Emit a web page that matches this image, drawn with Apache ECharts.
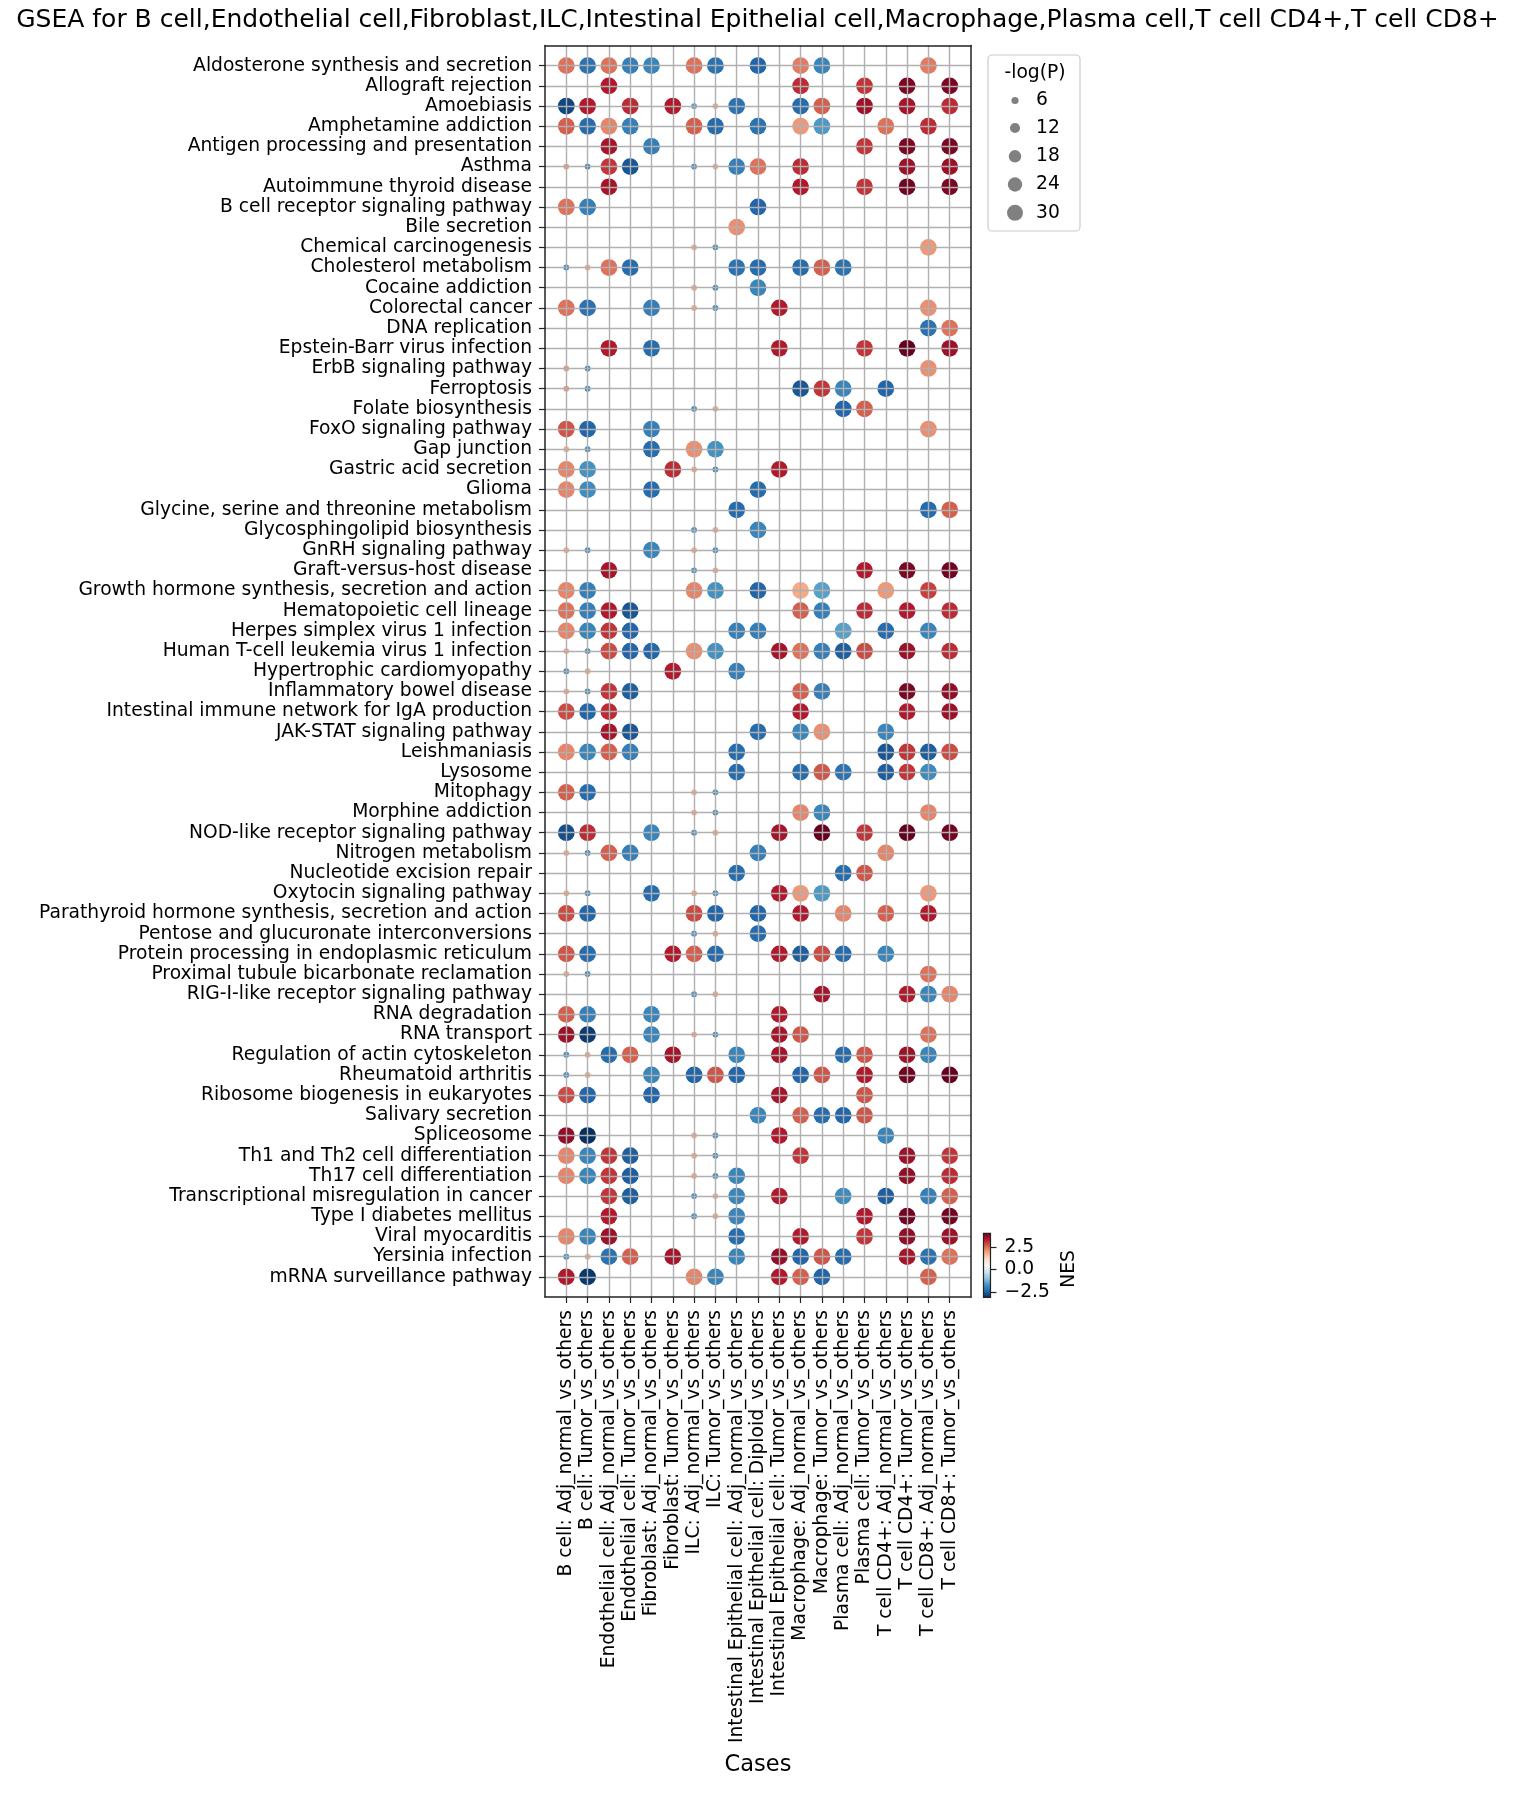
<!DOCTYPE html>
<html><head><meta charset="utf-8">
<script src="https://cdn.jsdelivr.net/npm/echarts@6/dist/echarts.min.js"></script>
<style>html,body{margin:0;padding:0;background:#fff}#c{width:1515px;height:1793px}</style>
</head><body><div id="c"></div>
<script>
const titleText = 'GSEA for B cell,Endothelial cell,Fibroblast,ILC,Intestinal Epithelial cell,Macrophage,Plasma cell,T cell CD4+,T cell CD8+';
const cases = [
'B cell: Adj_normal_vs_others','B cell: Tumor_vs_others',
'Endothelial cell: Adj_normal_vs_others','Endothelial cell: Tumor_vs_others',
'Fibroblast: Adj_normal_vs_others','Fibroblast: Tumor_vs_others',
'ILC: Adj_normal_vs_others','ILC: Tumor_vs_others',
'Intestinal Epithelial cell: Adj_normal_vs_others','Intestinal Epithelial cell: Diploid_vs_others','Intestinal Epithelial cell: Tumor_vs_others',
'Macrophage: Adj_normal_vs_others','Macrophage: Tumor_vs_others',
'Plasma cell: Adj_normal_vs_others','Plasma cell: Tumor_vs_others',
'T cell CD4+: Adj_normal_vs_others','T cell CD4+: Tumor_vs_others',
'T cell CD8+: Adj_normal_vs_others','T cell CD8+: Tumor_vs_others'];
const pathways = [
'Aldosterone synthesis and secretion','Allograft rejection','Amoebiasis','Amphetamine addiction',
'Antigen processing and presentation','Asthma','Autoimmune thyroid disease','B cell receptor signaling pathway',
'Bile secretion','Chemical carcinogenesis','Cholesterol metabolism','Cocaine addiction','Colorectal cancer',
'DNA replication','Epstein-Barr virus infection','ErbB signaling pathway','Ferroptosis','Folate biosynthesis',
'FoxO signaling pathway','Gap junction','Gastric acid secretion','Glioma','Glycine, serine and threonine metabolism',
'Glycosphingolipid biosynthesis','GnRH signaling pathway','Graft-versus-host disease',
'Growth hormone synthesis, secretion and action','Hematopoietic cell lineage','Herpes simplex virus 1 infection',
'Human T-cell leukemia virus 1 infection','Hypertrophic cardiomyopathy','Inflammatory bowel disease',
'Intestinal immune network for IgA production','JAK-STAT signaling pathway','Leishmaniasis','Lysosome','Mitophagy',
'Morphine addiction','NOD-like receptor signaling pathway','Nitrogen metabolism','Nucleotide excision repair',
'Oxytocin signaling pathway','Parathyroid hormone synthesis, secretion and action','Pentose and glucuronate interconversions',
'Protein processing in endoplasmic reticulum','Proximal tubule bicarbonate reclamation','RIG-I-like receptor signaling pathway',
'RNA degradation','RNA transport','Regulation of actin cytoskeleton','Rheumatoid arthritis','Ribosome biogenesis in eukaryotes',
'Salivary secretion','Spliceosome','Th1 and Th2 cell differentiation','Th17 cell differentiation',
'Transcriptional misregulation in cancer','Type I diabetes mellitus','Viral myocarditis','Yersinia infection','mRNA surveillance pathway'];
// per pathway: [caseIndex, NES, -log(P)]
const gsea = [
[[0,2.4,33],[1,-2.2,33],[2,2.4,33],[3,-2.0,33],[4,-1.9,33],[6,2.4,33],[7,-2.2,33],[9,-2.4,33],[11,2.3,33],[12,-1.9,33],[17,2.3,33]],
[[2,3.3,33],[11,3.1,33],[14,3.0,33],[16,3.8,33],[18,3.8,33]],
[[0,-2.8,33],[1,3.3,33],[3,3.1,33],[5,3.3,33],[6,-1.6,4],[7,1.8,4],[8,-2.2,33],[11,-2.3,33],[12,2.6,33],[14,3.5,33],[16,3.4,33],[18,3.1,33]],
[[0,2.6,33],[1,-2.3,33],[2,2.2,33],[3,-2.0,33],[6,2.6,33],[7,-2.3,33],[9,-2.2,33],[11,2.0,33],[12,-1.6,33],[15,2.4,33],[17,3.1,33]],
[[2,3.4,33],[4,-2.0,33],[14,3.0,33],[16,3.8,33],[18,3.8,33]],
[[0,2.0,4],[1,-2.0,4],[2,3.0,33],[3,-2.6,33],[6,-1.8,4],[7,1.8,4],[8,-2.0,33],[9,2.4,33],[11,3.1,33],[16,3.5,33],[18,3.5,33]],
[[2,3.4,33],[11,3.3,33],[14,3.0,33],[16,3.9,33],[18,3.8,33]],
[[0,2.4,33],[1,-2.0,33],[9,-2.4,33]],
[[8,2.1,33]],
[[6,1.8,4],[7,-1.8,4],[17,2.0,33]],
[[0,-1.8,4],[1,1.8,4],[2,2.4,33],[3,-2.3,33],[8,-2.2,33],[9,-2.3,33],[11,-2.3,33],[12,2.6,33],[13,-2.2,33]],
[[6,1.8,4],[7,-1.8,4],[9,-1.9,33]],
[[0,2.4,33],[1,-2.2,33],[4,-2.0,33],[6,1.8,4],[7,-1.8,4],[10,3.3,33],[17,2.1,33]],
[[17,-2.2,33],[18,2.4,33]],
[[2,3.3,33],[4,-2.3,33],[10,3.3,33],[14,3.0,33],[16,4.0,33],[18,3.5,33]],
[[0,2.0,4],[1,-1.8,4],[17,2.1,33]],
[[0,2.0,4],[1,-1.8,4],[11,-2.6,33],[12,3.0,33],[13,-1.9,33],[15,-2.4,33]],
[[6,-1.8,4],[7,1.8,4],[13,-2.4,33],[14,2.6,33]],
[[0,2.7,33],[1,-2.4,33],[4,-2.0,33],[17,2.1,33]],
[[0,1.8,4],[1,-1.8,4],[4,-2.3,33],[6,2.1,33],[7,-1.7,33]],
[[0,2.2,33],[1,-1.7,33],[5,3.1,33],[6,1.8,4],[7,-1.8,4],[10,3.3,33]],
[[0,2.2,33],[1,-1.8,33],[4,-2.3,33],[9,-2.3,33]],
[[8,-2.3,33],[17,-2.3,33],[18,2.6,33]],
[[6,-1.8,4],[7,1.8,4],[9,-1.9,33]],
[[0,1.8,4],[1,-1.8,4],[4,-1.9,33],[6,1.8,4],[7,-1.8,4]],
[[2,3.4,33],[6,-1.8,4],[7,1.8,4],[14,3.3,33],[16,3.8,33],[18,3.9,33]],
[[0,2.2,33],[1,-2.0,33],[6,2.2,33],[7,-1.7,33],[9,-2.4,33],[11,1.8,33],[12,-1.5,33],[15,2.0,33],[17,2.9,33]],
[[0,2.4,33],[1,-2.0,33],[2,3.3,33],[3,-2.6,33],[11,2.6,33],[12,-2.0,33],[14,3.1,33],[16,3.3,33],[18,3.1,33]],
[[0,2.2,33],[1,-1.9,33],[2,3.0,33],[3,-2.4,33],[8,-2.0,33],[9,-2.0,33],[13,-1.5,33],[15,-2.3,33],[17,-1.9,33]],
[[0,1.8,4],[1,-1.8,4],[2,2.8,33],[3,-2.4,33],[4,-2.4,33],[6,2.1,33],[7,-1.7,33],[10,3.4,33],[11,2.4,33],[12,-2.0,33],[13,-2.5,33],[14,2.8,33],[16,3.5,33],[18,3.1,33]],
[[0,-1.8,4],[1,1.8,4],[5,3.3,33],[8,-2.0,33]],
[[0,1.8,4],[1,-1.8,4],[2,3.0,33],[3,-2.5,33],[11,2.6,33],[12,-2.0,33],[16,3.8,33],[18,3.6,33]],
[[0,2.8,33],[1,-2.4,33],[2,3.1,33],[11,3.3,33],[16,3.3,33],[18,3.5,33]],
[[2,3.4,33],[3,-2.6,33],[9,-2.3,33],[11,-1.9,33],[12,2.1,33],[15,-1.9,33]],
[[0,2.2,33],[1,-1.9,33],[2,2.6,33],[3,-2.0,33],[8,-2.3,33],[15,-2.6,33],[16,3.0,33],[17,-2.5,33],[18,2.8,33]],
[[8,-2.3,33],[11,-2.3,33],[12,2.7,33],[13,-2.2,33],[15,-2.5,33],[16,3.0,33],[17,-1.8,33]],
[[0,2.6,33],[1,-2.3,33],[6,1.8,4],[7,-1.8,4]],
[[6,1.8,4],[7,-1.8,4],[11,2.2,33],[12,-1.9,33],[17,2.2,33]],
[[0,-2.7,33],[1,3.1,33],[4,-1.9,33],[6,-1.8,4],[7,1.8,4],[10,3.4,33],[12,4.0,33],[14,3.0,33],[16,4.0,33],[18,3.9,33]],
[[0,1.8,4],[1,-1.8,4],[2,2.6,33],[3,-2.0,33],[9,-2.0,33],[15,2.2,33]],
[[8,-2.3,33],[13,-2.3,33],[14,2.7,33]],
[[0,1.8,4],[1,-1.8,4],[4,-2.3,33],[6,1.8,4],[7,-1.8,4],[10,3.3,33],[11,2.0,33],[12,-1.6,33],[17,2.0,33]],
[[0,2.8,33],[1,-2.4,33],[6,2.8,33],[7,-2.4,33],[9,-2.4,33],[11,3.3,33],[13,2.2,33],[15,2.6,33],[17,3.3,33]],
[[6,-1.8,4],[7,1.8,4],[9,-2.3,33]],
[[0,2.7,33],[1,-2.3,33],[5,3.3,33],[6,2.6,33],[7,-2.3,33],[10,3.3,33],[11,-2.5,33],[12,2.8,33],[13,-2.3,33],[15,-1.9,33]],
[[0,1.8,4],[1,-1.8,4],[17,2.4,33]],
[[6,-1.8,4],[7,1.8,4],[12,3.4,33],[16,3.3,33],[17,-1.9,33],[18,2.2,33]],
[[0,2.6,33],[1,-2.0,33],[4,-1.9,33],[10,3.3,33]],
[[0,3.5,33],[1,-2.95,33],[4,-1.9,33],[6,1.8,4],[7,-1.8,4],[10,3.4,33],[11,2.7,33],[17,2.4,33]],
[[0,-1.8,4],[1,1.8,4],[2,-2.3,33],[3,2.6,33],[5,3.4,33],[8,-1.9,33],[10,3.4,33],[13,-2.3,33],[14,2.7,33],[16,3.5,33],[17,-1.9,33]],
[[0,-1.8,4],[1,1.8,4],[4,-1.9,33],[6,-2.4,33],[7,2.7,33],[8,-2.4,33],[11,-2.4,33],[12,2.7,33],[14,3.3,33],[16,3.9,33],[18,4.0,33]],
[[0,2.8,33],[1,-2.4,33],[4,-2.4,33],[10,3.4,33],[14,2.7,33]],
[[9,-1.9,33],[11,2.6,33],[12,-2.3,33],[13,-2.4,33],[14,2.7,33]],
[[0,3.6,33],[1,-3.1,33],[6,1.8,4],[7,-1.8,4],[10,3.3,33],[15,-1.9,33]],
[[0,2.2,33],[1,-1.9,33],[2,3.0,33],[3,-2.5,33],[6,1.8,4],[7,-1.8,4],[11,3.0,33],[16,3.5,33],[18,3.0,33]],
[[0,2.2,33],[1,-1.9,33],[2,3.0,33],[3,-2.5,33],[6,1.8,4],[7,-1.8,4],[8,-1.9,33],[16,3.6,33],[18,3.1,33]],
[[2,3.0,33],[3,-2.5,33],[6,-1.8,4],[7,1.8,4],[8,-1.9,33],[10,3.3,33],[13,-1.8,33],[15,-2.5,33],[17,-2.0,33],[18,2.6,33]],
[[2,3.3,33],[6,-1.8,4],[7,1.8,4],[8,-1.9,33],[14,3.3,33],[16,3.9,33],[18,3.9,33]],
[[0,2.2,33],[1,-1.9,33],[2,3.5,33],[8,-2.3,33],[11,3.3,33],[14,3.0,33],[16,3.6,33],[18,3.5,33]],
[[0,-1.8,4],[1,1.8,4],[2,-2.2,33],[3,2.6,33],[5,3.4,33],[8,-1.9,33],[10,3.6,33],[11,-2.4,33],[12,2.7,33],[13,-2.3,33],[16,3.4,33],[17,-2.2,33],[18,2.4,33]],
[[0,3.3,33],[1,-3.0,33],[6,2.2,33],[7,-1.9,33],[10,3.3,33],[11,2.6,33],[12,-2.4,33],[17,2.6,33]]
];
const sizeLegendValues = [6, 12, 18, 24, 30];
const nesTicks = [-2.5, 0, 2.5];
const nesMin = -3.1, nesMax = 4.0;
const rdbu_r = ['#053061','#2166ac','#4393c3','#92c5de','#d1e5f0','#f7f7f7','#fddbc7','#f4a582','#d6604d','#b2182b','#67001f'];

const FONT = 'DejaVu Sans';
const FS = 18.7;
const sizeOf = v => 16 * Math.sqrt(v / 30);
const points = [];
gsea.forEach((row, r) => row.forEach(([c, nes, lp]) => points.push([c, r, nes, lp])));

const G = {left: 545, top: 45.5, width: 426, height: 1251.5};
const caseIdx = cases.map((_, i) => i);
const pathIdx = pathways.map((_, i) => i);
const fmtMinus = v => (v < 0 ? '\u2212' : '') + Math.abs(v).toFixed(1);

// legend graphics
const legend = [];
const fontStr = FS + 'px "DejaVu Sans"';
legend.push({type:'rect', shape:{x:988, y:55, width:92, height:176, r:4}, style:{fill:'rgba(255,255,255,0.8)', stroke:'#cccccc', lineWidth:1.2}, z:20});
legend.push({type:'text', x:1035, y:73, style:{text:'-log(P)', font:fontStr, fill:'#000', textAlign:'center', textVerticalAlign:'middle'}, z:21});
const legendYs = [100.5, 128, 156.3, 184.5, 212.8];
sizeLegendValues.forEach((v, i) => {
  legend.push({type:'circle', shape:{cx:1015, cy:legendYs[i], r:sizeOf(v)/2}, style:{fill:'#808080'}, z:21});
  legend.push({type:'text', x:1036, y:legendYs[i], style:{text:String(v), font:fontStr, fill:'#000', textAlign:'left', textVerticalAlign:'middle'}, z:21});
});
legend.push({type:'text', x:1069, y:1269, rotation:Math.PI/2, style:{text:'NES', font:fontStr, fill:'#000', textAlign:'center', textVerticalAlign:'middle'}, z:21});

const chart = echarts.init(document.getElementById('c'), null, {renderer:'canvas'});
const frameAxis = {show:true, onZero:false, lineStyle:{color:'#222', width:1.5}};
chart.setOption({
  animation:false,
  backgroundColor:'#fff',
  textStyle:{fontFamily:FONT},
  title:{text:titleText, left:'center', top:8, padding:0, textStyle:{fontFamily:FONT, fontSize:25, fontWeight:'normal', color:'#000'}},
  grid:[
    {left:G.left, top:G.top, width:G.width, height:G.height, containLabel:false},
    {left:983.5, top:1233.3, width:7, height:64, containLabel:false}
  ],
  xAxis:[
    {gridIndex:0, type:'value', min:-1, max:19, interval:1, position:'bottom', z:10,
     name:'Cases', nameLocation:'middle', nameGap:457, nameTextStyle:{fontFamily:FONT, fontSize:22.5, color:'#000'},
     axisLine:frameAxis,
     axisTick:{show:true, customValues:caseIdx, length:6, lineStyle:{color:'#222', width:1.2}},
     axisLabel:{show:true, customValues:caseIdx, rotate:90, margin:13, fontFamily:FONT, fontSize:FS, color:'#000', formatter:v => cases[v] ?? ''},
     splitLine:{show:true, lineStyle:{color:'#b0b0b0', width:1.4}}},
    {gridIndex:0, type:'value', min:-1, max:19, position:'top', z:11,
     axisLine:frameAxis, axisTick:{show:false}, axisLabel:{show:false}, splitLine:{show:false}},
    {gridIndex:1, type:'value', min:0, max:1, show:false}
  ],
  yAxis:[
    {gridIndex:0, type:'value', min:-1, max:61, interval:1, inverse:true, position:'left', z:10,
     axisLine:frameAxis,
     axisTick:{show:true, customValues:pathIdx, length:6, lineStyle:{color:'#222', width:1.2}},
     axisLabel:{show:true, customValues:pathIdx, margin:13, fontFamily:FONT, fontSize:FS, color:'#000', formatter:v => pathways[v] ?? ''},
     splitLine:{show:true, lineStyle:{color:'#b0b0b0', width:1.4}}},
    {gridIndex:0, type:'value', min:-1, max:61, inverse:true, position:'right', z:11,
     axisLine:frameAxis, axisTick:{show:false}, axisLabel:{show:false}, splitLine:{show:false}},
    {gridIndex:1, type:'value', min:nesMin, max:nesMax, position:'right',
     axisLine:{show:false, onZero:false},
     axisTick:{show:true, customValues:nesTicks, length:6, lineStyle:{color:'#222', width:1.2}},
     axisLabel:{show:true, customValues:nesTicks, margin:14, fontFamily:FONT, fontSize:FS, color:'#000', formatter:fmtMinus},
     splitLine:{show:false}}
  ],
  visualMap:[{type:'continuous', show:false, seriesIndex:0, dimension:2, min:nesMin, max:nesMax, inRange:{color:rdbu_r}}],
  series:[
    {type:'scatter', xAxisIndex:0, yAxisIndex:0, z:2, data:points,
     symbol:'circle', symbolSize:d => sizeOf(d[3]), itemStyle:{opacity:1}},
    {type:'custom', xAxisIndex:2, yAxisIndex:2, data:[[0.5, 0]],
     renderItem:(params, api) => {
       const cs = params.coordSys;
       const stops = rdbu_r.map((c, i) => ({offset:i/(rdbu_r.length-1), color:c}));
       return {type:'rect', shape:{x:cs.x, y:cs.y, width:cs.width, height:cs.height},
               style:{fill:new echarts.graphic.LinearGradient(0,1,0,0,stops), stroke:'#222', lineWidth:1.2}};
     }}
  ],
  graphic:legend
});
</script></body></html>
